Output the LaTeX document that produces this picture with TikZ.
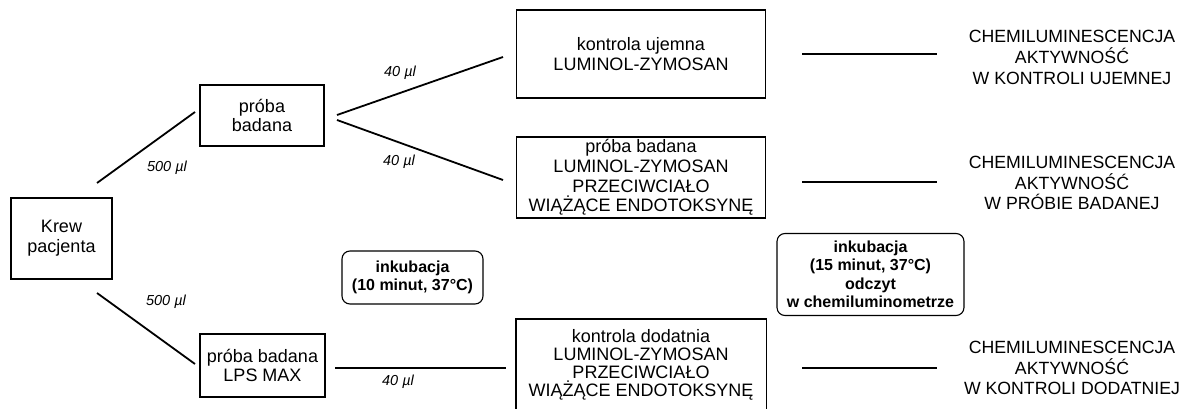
\documentclass[tikz,border=0pt]{standalone}
\usepackage{fontspec}
\setmainfont{Liberation Sans}
\begin{document}
\begin{tikzpicture}[x=1pt,y=-1pt,
  box/.style={draw=black,line width=1.6pt,rectangle,align=center,inner sep=0pt,
    font=\fontsize{18}{19.8}\selectfont},
  inc/.style={draw=black,line width=1.1pt,rectangle,rounded corners=8pt,align=center,inner sep=0pt,
    font=\fontsize{16}{18.5}\selectfont\bfseries},
  res/.style={align=center,inner sep=0pt,font=\fontsize{17.7}{20.8}\selectfont},
  vol/.style={inner sep=0pt,font=\fontsize{14.5}{16}\selectfont\itshape},
  conn/.style={line width=1.8pt}]
\useasboundingbox (0,0) rectangle (1194,409);
% boxes
\node[box,minimum width=101pt,minimum height=81pt] (krew) at (61.5,238.5) {Krew\\pacjenta};
\node[box,minimum width=124pt,minimum height=61pt] (pb) at (262,115.5) {próba\\badana};
\node[box,minimum width=125pt,minimum height=63pt] (lps) at (262.5,365.5) {próba badana\\LPS MAX};
\node[box,minimum width=249pt,minimum height=88pt] (ku) at (641,54) {kontrola ujemna\\LUMINOL-ZYMOSAN};
\node[box,minimum width=249pt,minimum height=81pt] (pl) at (641,177.5) {próba badana\\LUMINOL-ZYMOSAN\\PRZECIWCIAŁO\\WIĄŻĄCE ENDOTOKSYNĘ};
\node[box,draw=none,minimum width=249pt,minimum height=89pt,font=\fontsize{18}{18}\selectfont] (kd) at (641,364.5) {kontrola dodatnia\\LUMINOL-ZYMOSAN\\PRZECIWCIAŁO\\WIĄŻĄCE ENDOTOKSYNĘ};
\draw[line width=1.6pt] (kd.south west) -- (kd.north west) -- (kd.north east) -- (kd.south east);
% incubation
\node[inc,minimum width=141pt,minimum height=53pt] (inc1) at (412.5,277.5) {inkubacja\\(10 minut, 37°C)};
\node[inc,minimum width=187pt,minimum height=82pt] (inc2) at (870.5,274.5) {inkubacja\\(15 minut, 37°C)\\odczyt\\w chemiluminometrze};
% results
\node[res] (r1) at (1072,57.5) {CHEMILUMINESCENCJA\\AKTYWNOŚĆ\\W KONTROLI UJEMNEJ};
\node[res] (r2) at (1072,183) {CHEMILUMINESCENCJA\\AKTYWNOŚĆ\\W PRÓBIE BADANEJ};
\node[res] (r3) at (1072,368) {CHEMILUMINESCENCJA\\AKTYWNOŚĆ\\W KONTROLI DODATNIEJ};
% connector ends
\coordinate (k1) at (97,183);
\coordinate (k2) at (97,293);
\coordinate (p1) at (195,112);
\coordinate (p2) at (195,364);
\coordinate (b1) at (337,115);
\coordinate (b2) at (337,120);
\coordinate (u1) at (503,57);
\coordinate (u2) at (503,180);
\coordinate (l1) at (335,368);
\coordinate (d1) at (506,368);
\coordinate (e1) at (802,54);
\coordinate (f1) at (937,54);
\coordinate (e2) at (802,182);
\coordinate (f2) at (937,182);
\coordinate (e3) at (802,368);
\coordinate (f3) at (937,368);
\draw[conn] (k1) -- (p1);
\draw[conn] (k2) -- (p2);
\draw[conn] (b1) -- (u1);
\draw[conn] (b2) -- (u2);
\draw[conn] (l1) -- (d1);
\draw[conn] (e1) -- (f1);
\draw[conn] (e2) -- (f2);
\draw[conn] (e3) -- (f3);
% volume labels
\node[vol] (v1) at (167,168) {500 µl};
\node[vol] (v2) at (166,302) {500 µl};
\node[vol] (v3) at (400,73) {40 µl};
\node[vol] (v4) at (399,162) {40 µl};
\node[vol] (v5) at (398,382) {40 µl};
\end{tikzpicture}
\end{document}
